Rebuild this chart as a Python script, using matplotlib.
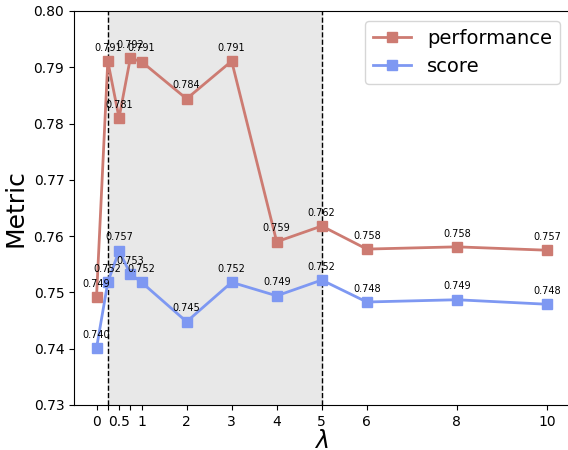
import matplotlib
matplotlib.use("Agg")
import matplotlib.pyplot as plt

lam = [0, 0.25, 0.5, 0.75, 1, 2, 3, 4, 5, 6, 8, 10]
performance = [0.7492, 0.7911, 0.7810, 0.7916, 0.7910, 0.7844, 0.7911, 0.7590, 0.7618, 0.7577, 0.7581, 0.7575]
score = [0.7401, 0.7518, 0.7574, 0.7533, 0.7518, 0.7448, 0.7518, 0.7494, 0.7522, 0.7483, 0.7487, 0.7479]
xticks = [0, 0.25, 0.5, 0.75, 1, 2, 3, 4, 5, 6, 8, 10]
xticklabels = ["0", "", "0.5", "", "1", "2", "3", "4", "5", "6", "8", "10"]
yticks = [0.73, 0.74, 0.75, 0.76, 0.77, 0.78, 0.79, 0.80]

fig = plt.figure(figsize=(5.68, 4.5), dpi=100)
ax = fig.add_axes([74/568, 1-405/450, (569.5-74)/568, (405-11)/450])

ax.axvspan(0.25, 5, color="#e8e8e8", zorder=0)
ax.axvline(0.25, color="black", linestyle="--", linewidth=1, zorder=1)
ax.axvline(5, color="black", linestyle="--", linewidth=1, zorder=1)

c_perf = "#cd7b72"
c_score = "#7e98f2"
ax.plot(lam, performance, marker="s", markersize=6.5, linewidth=2, color=c_perf, label="performance", zorder=3)
ax.plot(lam, score, marker="s", markersize=6.5, linewidth=2, color=c_score, label="score", zorder=3)

for x, y in zip(lam, performance):
    ax.annotate(f"{y:.3f}", (x, y), textcoords="offset points", xytext=(0, 6),
                ha="center", va="bottom", fontsize=7, zorder=4)
for x, y in zip(lam, score):
    ax.annotate(f"{y:.3f}", (x, y), textcoords="offset points", xytext=(0, 6),
                ha="center", va="bottom", fontsize=7, zorder=4)

ax.set_xlim(-0.5, 10.5)
ax.set_ylim(0.73, 0.80)
ax.set_xticks(xticks)
ax.set_xticklabels(xticklabels, fontsize=10)
ax.set_yticks(yticks)
ax.set_yticklabels([f"{v:.2f}" for v in yticks], fontsize=10)
ax.set_ylabel("Metric", fontsize=18, labelpad=4)
ax.set_xlabel(r"$\lambda$", fontsize=17, labelpad=0)
ax.legend(loc="upper right", fontsize=14, bbox_to_anchor=(1.0, 1.0))

fig.savefig("out.png", dpi=100)
